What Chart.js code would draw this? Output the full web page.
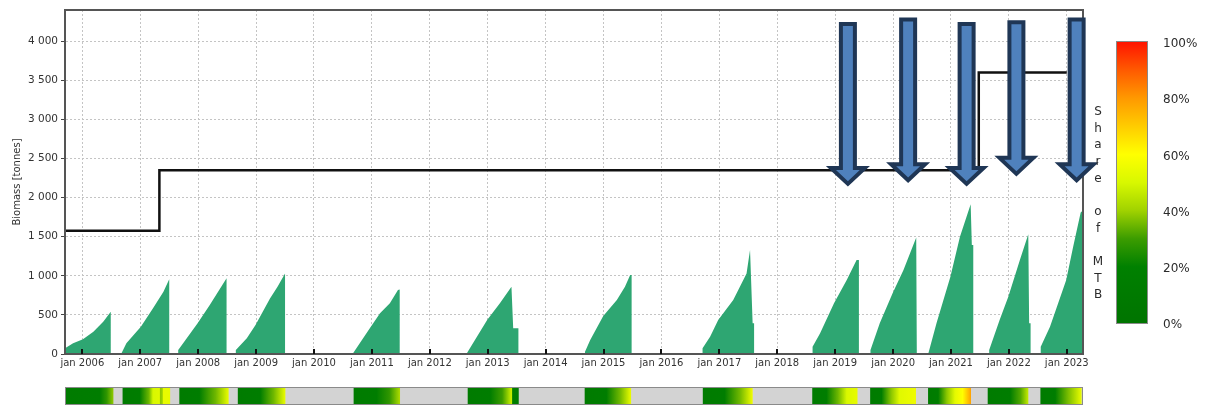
<!DOCTYPE html>
<html lang="en">
<head>
<meta charset="UTF-8">
<title>Biomass and share of MTB</title>
<style>
  body { margin: 0; background: #fff; }
  .wrap { position: relative; width: 1212px; height: 409px; }
  #mainChart { position: absolute; left: 0; top: 0; }
  #mtbBar { position: absolute; left: 65px; top: 387px; background: #d3d3d3; }
</style>
</head>
<body>
<div class="wrap">
  <canvas id="mainChart" width="1212" height="409"></canvas>
  <canvas id="mtbBar" width="1018" height="18"></canvas>
</div>

<script src="https://cdn.jsdelivr.net/npm/chart.js"></script>
<script>
// x axis in decimal years
const xMin = 2005.70, xMax = 2023.28;
const years = [2006, 2007, 2008, 2009, 2010, 2011, 2012, 2013, 2014, 2015, 2016, 2017, 2018, 2019, 2020, 2021, 2022, 2023];
const yTicks = [0, 500, 1000, 1500, 2000, 2500, 3000, 3500, 4000];

// black step line (changes at each point)
const quota = [[2005.70, 1575], [2007.33, 2350], [2021.48, 3600], [2023.00, 3600]];

// biomass per season, [year, tonnes]
const biomass = [
  [[2005.70, 72], [2005.84, 136], [2006.01, 188], [2006.19, 285], [2006.36, 413], [2006.49, 541]],
  [[2006.68, 17], [2006.76, 136], [2007.01, 349], [2007.22, 584], [2007.40, 796], [2007.50, 955]],
  [[2007.655, 51], [2007.74, 136], [2007.99, 392], [2008.20, 626], [2008.49, 970]],
  [[2008.65, 51], [2008.84, 200], [2008.99, 371], [2009.24, 711], [2009.37, 860], [2009.50, 1030]],
  [[2010.68, 17], [2010.99, 358], [2011.14, 520], [2011.31, 648], [2011.45, 818], [2011.48, 825]],
  [[2012.645, 17], [2012.99, 434], [2013.21, 648], [2013.41, 860], [2013.44, 328], [2013.53, 328]],
  [[2014.68, 30], [2014.77, 179], [2014.995, 486], [2015.23, 690], [2015.37, 860], [2015.46, 1010], [2015.485, 1010]],
  [[2016.71, 72], [2016.84, 221], [2016.98, 434], [2017.24, 690], [2017.47, 1031], [2017.53, 1329], [2017.575, 392], [2017.60, 392]],
  [[2018.61, 94], [2018.74, 264], [2018.98, 648], [2019.20, 946], [2019.37, 1201], [2019.41, 1201]],
  [[2019.61, 51], [2019.77, 392], [2019.99, 775], [2020.18, 1073], [2020.40, 1491], [2020.41, 1491]],
  [[2020.61, 9], [2020.75, 392], [2020.99, 988], [2021.155, 1499], [2021.34, 1917], [2021.36, 1393], [2021.385, 1393]],
  [[2021.66, 51], [2021.84, 434], [2021.99, 733], [2022.19, 1201], [2022.335, 1533], [2022.35, 392], [2022.375, 392]],
  [[2022.55, 94], [2022.71, 349], [2022.99, 946], [2023.11, 1371], [2023.24, 1811], [2023.28, 1840]]
];

// share of MTB (%) through each season, [year, share]
const mtbShare = [
  [[2005.71, 12], [2006.30, 15], [2006.42, 28], [2006.53, 38]],
  [[2006.70, 12], [2006.99, 15], [2007.15, 35], [2007.22, 50], [2007.33, 52], [2007.35, 38], [2007.38, 40], [2007.40, 54], [2007.51, 54]],
  [[2007.68, 12], [2008.02, 15], [2008.30, 35], [2008.52, 54]],
  [[2008.69, 12], [2009.07, 15], [2009.30, 35], [2009.50, 54]],
  [[2010.69, 12], [2011.08, 15], [2011.30, 28], [2011.48, 42]],
  [[2012.66, 12], [2013.04, 15], [2013.25, 30], [2013.41, 48], [2013.43, 15], [2013.53, 14]],
  [[2014.68, 12], [2015.05, 15], [2015.28, 35], [2015.47, 54]],
  [[2016.72, 12], [2017.09, 15], [2017.35, 35], [2017.57, 56]],
  [[2018.61, 12], [2018.85, 15], [2019.05, 35], [2019.20, 50], [2019.38, 54]],
  [[2019.61, 12], [2019.80, 15], [2019.97, 38], [2020.11, 52], [2020.39, 56]],
  [[2020.61, 12], [2020.78, 15], [2020.93, 38], [2021.07, 53], [2021.20, 60], [2021.34, 78]],
  [[2021.64, 12], [2022.02, 15], [2022.20, 32], [2022.33, 46]],
  [[2022.55, 12], [2022.80, 15], [2023.02, 36], [2023.25, 54]]
];

// colour scale for share of MTB
const shareStops = [0, 20, 30, 40, 50, 60, 70, 80, 90, 100];
const shareColors = ['#007400', '#008000', '#3c9c00', '#a0d200', '#d8f800', '#ffff00', '#ffcc00', '#ff9900', '#ff5a00', '#ff1400'];
const legendTicks = [0, 20, 40, 60, 80, 100];

// arrows: centre year, top and tip in tonnes
const arrowYears = [2019.22, 2020.26, 2021.27, 2022.13, 2023.17];
const arrowTop = [4221, 4277, 4221, 4243, 4277];
const arrowTip = [2176, 2223, 2176, 2304, 2223];

function hexToRgb(h) {
  return [parseInt(h.slice(1, 3), 16), parseInt(h.slice(3, 5), 16), parseInt(h.slice(5, 7), 16)];
}

function shareColor(s) {
  for (let i = 1; i < shareStops.length; i++) {
    if (s <= shareStops[i]) {
      const t = (s - shareStops[i - 1]) / (shareStops[i] - shareStops[i - 1]);
      const a = hexToRgb(shareColors[i - 1]), b = hexToRgb(shareColors[i]);
      const c = a.map((v, k) => Math.round(v + (b[k] - v) * t));
      return `rgb(${c[0]},${c[1]},${c[2]})`;
    }
  }
  return shareColors[shareColors.length - 1];
}

function fmtTonnes(v) {
  if (v < 1000) return String(v);
  return Math.floor(v / 1000) + ' ' + String(v % 1000).padStart(3, '0');
}

const areaPoints = [];
biomass.forEach(season => {
  areaPoints.push({ x: season[0][0], y: 0 });
  season.forEach(p => areaPoints.push({ x: p[0], y: p[1] }));
  areaPoints.push({ x: season[season.length - 1][0], y: 0 });
});

const plotExtras = {
  id: 'plotExtras',
  afterDraw(chart) {
    const { ctx, chartArea: a, scales: { x, y } } = chart;
    ctx.save();

    // rest of the frame
    ctx.strokeStyle = '#555';
    ctx.lineWidth = 2;
    ctx.beginPath();
    ctx.moveTo(a.left, a.top);
    ctx.lineTo(a.right, a.top);
    ctx.lineTo(a.right, a.bottom);
    ctx.stroke();

    // year ticks pointing into the plot
    ctx.strokeStyle = '#111';
    ctx.lineWidth = 2;
    years.forEach(v => {
      const px = Math.round(x.getPixelForValue(v));
      ctx.beginPath();
      ctx.moveTo(px, a.bottom);
      ctx.lineTo(px, a.bottom - 5);
      ctx.stroke();
    });

    // arrows
    ctx.fillStyle = '#4f81bd';
    ctx.strokeStyle = '#1f3655';
    ctx.lineWidth = 4;
    ctx.lineJoin = 'miter';
    arrowYears.forEach((yr, i) => {
      const cx = x.getPixelForValue(yr);
      const top = y.getPixelForValue(arrowTop[i]);
      const tip = y.getPixelForValue(arrowTip[i]);
      const headTop = tip - 16;
      ctx.beginPath();
      ctx.moveTo(cx - 7, top);
      ctx.lineTo(cx + 7, top);
      ctx.lineTo(cx + 7, headTop);
      ctx.lineTo(cx + 17, headTop);
      ctx.lineTo(cx, tip);
      ctx.lineTo(cx - 17, headTop);
      ctx.lineTo(cx - 7, headTop);
      ctx.closePath();
      ctx.fill();
      ctx.stroke();
    });

    // colour legend
    const lx = 1117, ly = 42, lw = 30, lh = 281;
    const g = ctx.createLinearGradient(0, ly + lh, 0, ly);
    shareStops.forEach((s, i) => g.addColorStop(s / 100, shareColors[i]));
    ctx.fillStyle = g;
    ctx.fillRect(lx, ly, lw, lh);
    ctx.strokeStyle = '#8a8a8a';
    ctx.lineWidth = 1;
    ctx.strokeRect(lx - 0.5, ly - 0.5, lw + 1, lh + 1);

    ctx.fillStyle = '#2b2b2b';
    ctx.font = '12px "DejaVu Sans"';
    ctx.textAlign = 'left';
    ctx.textBaseline = 'middle';
    legendTicks.forEach(t => {
      ctx.fillText(t + '%', 1163, ly + lh - (t / 100) * lh + 2);
    });

    ctx.textAlign = 'center';
    ctx.textBaseline = 'alphabetic';
    'Share of MTB'.split('').forEach((ch, i) => {
      ctx.fillText(ch, 1098, 115 + i * 16.65);
    });

    ctx.restore();
  }
};

const mainChart = new Chart(document.getElementById('mainChart'), {
  type: 'line',
  data: {
    datasets: [
      {
        label: 'Quota',
        data: quota.map(p => ({ x: p[0], y: p[1] })),
        borderColor: '#111',
        borderWidth: 2.5,
        stepped: true,
        pointRadius: 0,
        fill: false
      },
      {
        label: 'Biomass',
        data: areaPoints,
        borderWidth: 0,
        borderColor: 'rgba(0,0,0,0)',
        backgroundColor: '#2ea672',
        pointRadius: 0,
        tension: 0,
        fill: 'origin'
      }
    ]
  },
  options: {
    responsive: false,
    animation: false,
    events: [],
    layout: { padding: { left: 0, right: 129, top: 10, bottom: 35 } },
    plugins: { legend: { display: false }, tooltip: { enabled: false } },
    scales: {
      x: {
        type: 'linear',
        min: xMin,
        max: xMax,
        afterBuildTicks: s => { s.ticks = years.map(v => ({ value: v })); },
        afterFit: s => { s.height = 20; },
        ticks: {
          callback: v => 'jan ' + v,
          font: { family: 'DejaVu Sans', size: 10 },
          color: '#333',
          padding: 3,
          maxRotation: 0,
          autoSkip: false
        },
        grid: { color: '#c4c4c4', drawTicks: false },
        border: { color: '#555', width: 2, dash: [2, 2], z: 1 }
      },
      y: {
        min: 0,
        max: 4400,
        afterBuildTicks: s => { s.ticks = yTicks.map(v => ({ value: v })); },
        afterFit: s => { s.width = 65; },
        ticks: {
          callback: v => fmtTonnes(v),
          font: { family: 'DejaVu Sans', size: 10.5 },
          color: '#333',
          padding: 3
        },
        grid: { color: '#c4c4c4', tickLength: 4, tickColor: '#444', tickBorderDash: [] },
        border: { color: '#555', width: 2, dash: [2, 2], z: 1 },
        title: {
          display: true,
          text: 'Biomass [tonnes]',
          font: { family: 'DejaVu Sans', size: 10 },
          color: '#333',
          padding: { top: 11, bottom: 0 }
        }
      }
    }
  },
  plugins: [plotExtras]
});

// bottom strip: share of MTB through each season
function segmentGradient(chart, seg) {
  const { ctx, chartArea } = chart;
  if (!chartArea) return null;
  const xs = chart.scales.x;
  const t0 = seg[0][0], t1 = seg[seg.length - 1][0];
  const g = ctx.createLinearGradient(xs.getPixelForValue(t0), 0, xs.getPixelForValue(t1), 0);
  seg.forEach(([t, s]) => g.addColorStop((t - t0) / (t1 - t0), shareColor(s)));
  return g;
}

const barFrame = {
  id: 'barFrame',
  afterDraw(chart) {
    const { ctx, width, height } = chart;
    ctx.save();
    ctx.strokeStyle = '#8a8a8a';
    ctx.lineWidth = 1;
    ctx.strokeRect(0.5, 0.5, width - 1, height - 1);
    ctx.restore();
  }
};

const mtbBar = new Chart(document.getElementById('mtbBar'), {
  type: 'bar',
  data: {
    labels: ['MTB'],
    datasets: mtbShare.map(seg => ({
      data: [[seg[0][0], seg[seg.length - 1][0]]],
      backgroundColor: c => segmentGradient(c.chart, seg),
      borderWidth: 0,
      grouped: false,
      barPercentage: 1,
      categoryPercentage: 1
    }))
  },
  options: {
    indexAxis: 'y',
    responsive: false,
    animation: false,
    events: [],
    layout: { padding: 0 },
    plugins: { legend: { display: false }, tooltip: { enabled: false } },
    scales: {
      x: { type: 'linear', min: xMin, max: xMax, display: false },
      y: { display: false }
    }
  },
  plugins: [barFrame]
});
</script>
</body>
</html>
